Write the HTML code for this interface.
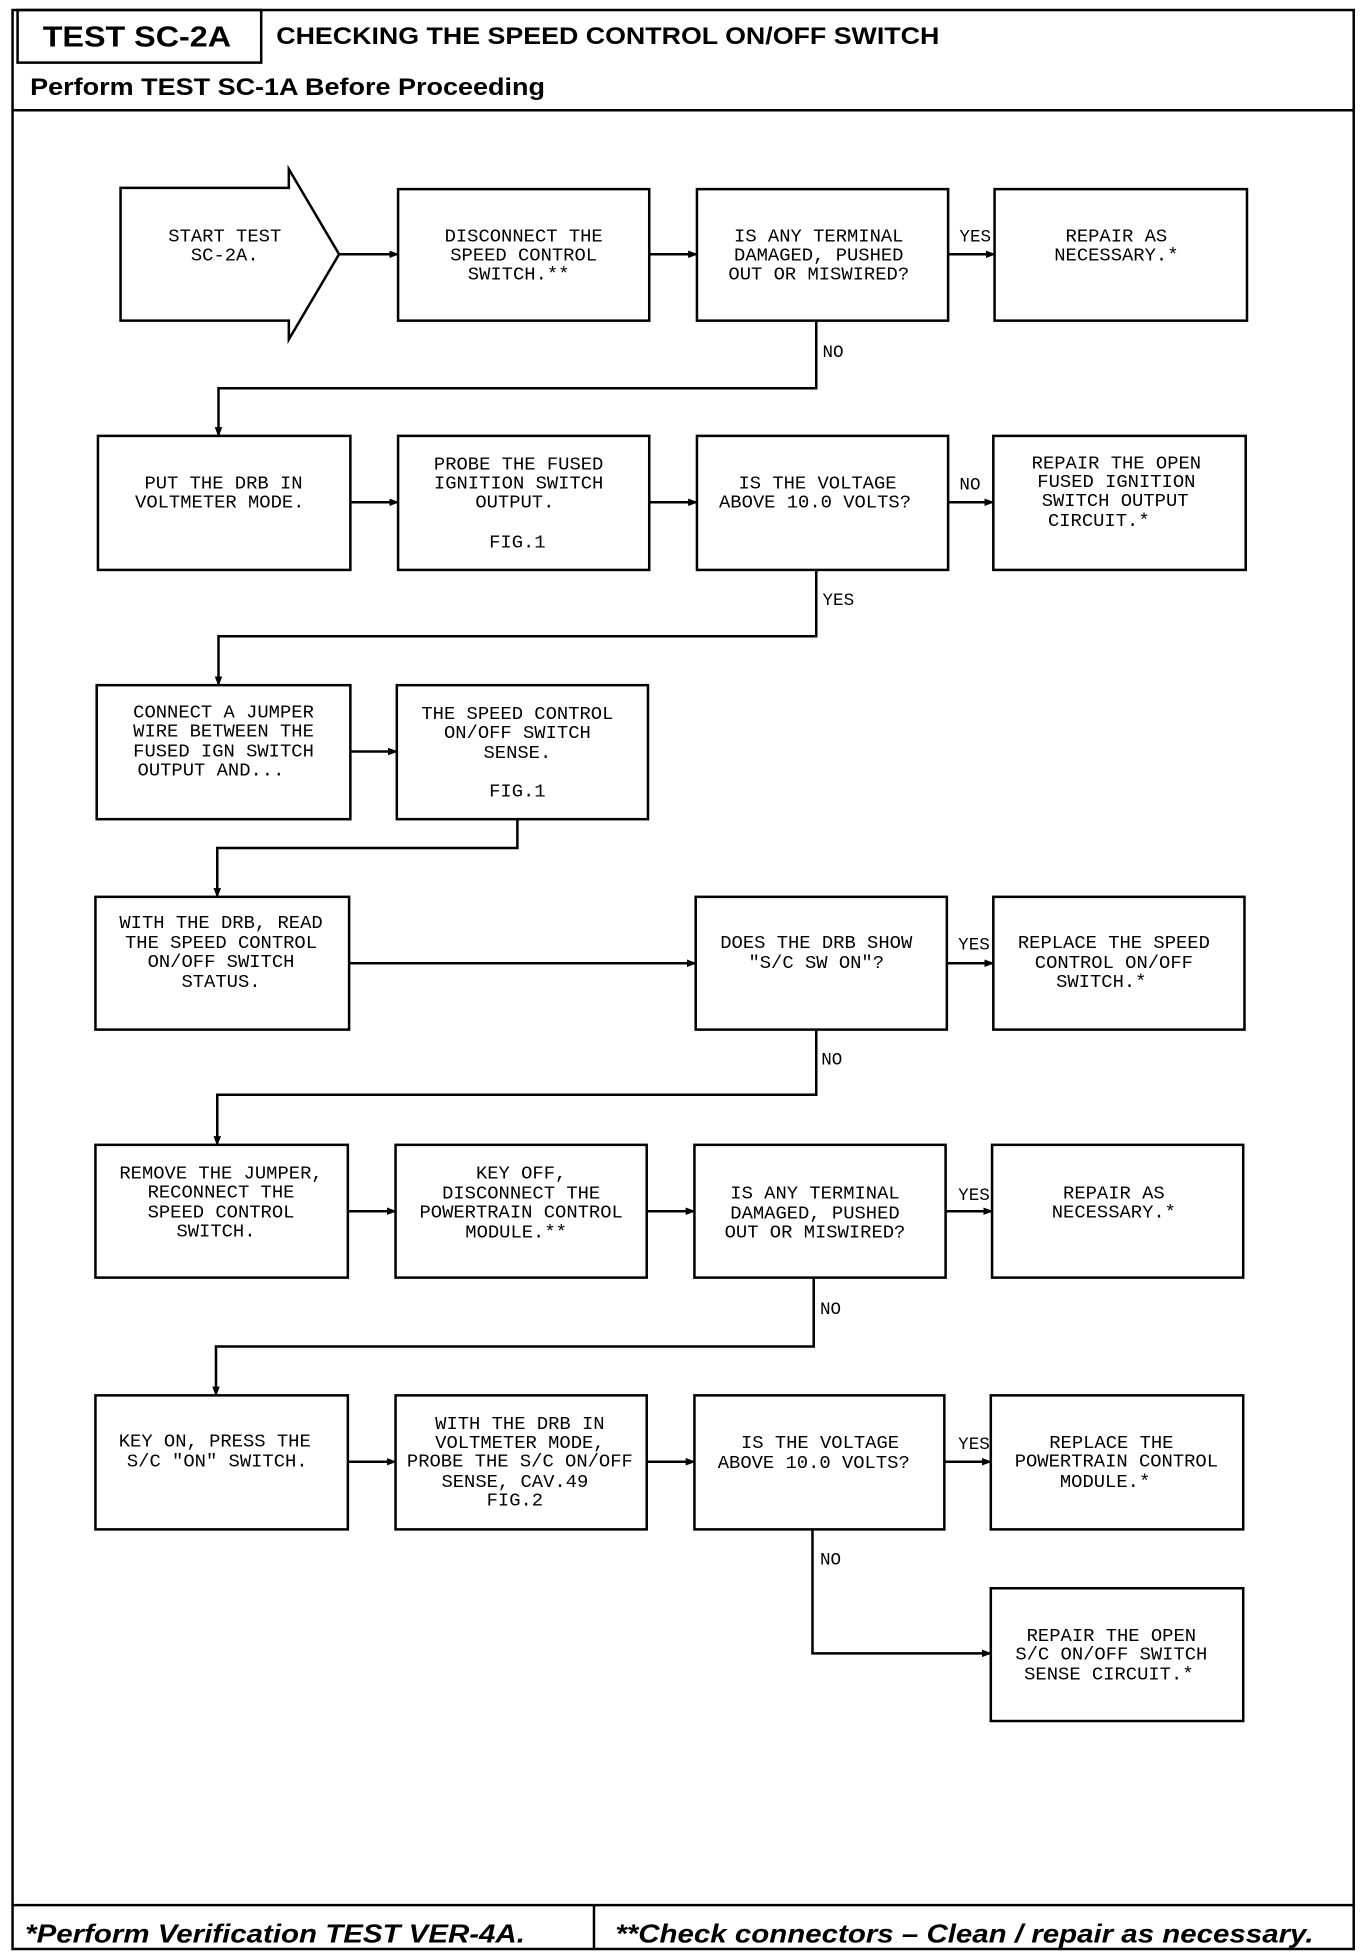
<!DOCTYPE html>
<html><head><meta charset="utf-8"><style>html,body{margin:0;padding:0;background:#fff}svg{display:block}</style></head>
<body>
<svg width="1360" height="1954" viewBox="0 0 1083 1560" preserveAspectRatio="none" xmlns="http://www.w3.org/2000/svg">
<defs><marker id="a" markerWidth="8" markerHeight="8" refX="7" refY="4" orient="auto" markerUnits="userSpaceOnUse"><path d="M0,1 L8,4 L0,7 z" fill="#000"/></marker></defs>
<g fill="none" stroke="#000" stroke-width="2">
<rect x="10" y="8" width="1068" height="1548"/>
<rect x="14" y="8" width="194" height="42"/>
<line x1="10" y1="88" x2="1078" y2="88"/>
<line x1="10" y1="1521" x2="1078" y2="1521"/>
<line x1="473" y1="1521" x2="473" y2="1556"/>
<path d="M96,150 H230 V135 L270,203 L230,271 V256 H96 Z"/>
<rect x="317" y="151" width="200" height="105"/><rect x="555" y="151" width="200" height="105"/><rect x="792" y="151" width="201" height="105"/>
<rect x="78" y="348" width="201" height="107"/><rect x="317" y="348" width="200" height="107"/><rect x="555" y="348" width="200" height="107"/><rect x="791" y="348" width="201" height="107"/>
<rect x="77" y="547" width="202" height="107"/><rect x="316" y="547" width="200" height="107"/>
<rect x="76" y="716" width="202" height="106"/><rect x="554" y="716" width="200" height="106"/><rect x="791" y="716" width="200" height="106"/>
<rect x="76" y="914" width="201" height="106"/><rect x="315" y="914" width="200" height="106"/><rect x="553" y="914" width="200" height="106"/><rect x="790" y="914" width="200" height="106"/>
<rect x="76" y="1114" width="201" height="107"/><rect x="315" y="1114" width="200" height="107"/><rect x="553" y="1114" width="199" height="107"/><rect x="789" y="1114" width="201" height="107"/>
<rect x="789" y="1268" width="201" height="106"/>
</g>
<g fill="none" stroke="#000" stroke-width="2" marker-end="url(#a)">
<line x1="270" y1="203" x2="317" y2="203"/><line x1="517" y1="203" x2="555" y2="203"/><line x1="755" y1="203" x2="792" y2="203"/>
<polyline points="650,256 650,310 174,310 174,348"/>
<line x1="279" y1="401" x2="317" y2="401"/><line x1="517" y1="401" x2="555" y2="401"/><line x1="755" y1="401" x2="791" y2="401"/>
<polyline points="650,455 650,508 174,508 174,547"/>
<line x1="279" y1="600" x2="316" y2="600"/>
<polyline points="412,654 412,677 173,677 173,716"/>
<line x1="278" y1="769" x2="554" y2="769"/><line x1="754" y1="769" x2="791" y2="769"/>
<polyline points="650,822 650,874 173,874 173,914"/>
<line x1="277" y1="967" x2="315" y2="967"/><line x1="515" y1="967" x2="553" y2="967"/><line x1="753" y1="967" x2="790" y2="967"/>
<polyline points="648,1020 648,1075 172,1075 172,1114"/>
<line x1="277" y1="1167" x2="315" y2="1167"/><line x1="515" y1="1167" x2="553" y2="1167"/><line x1="752" y1="1167" x2="789" y2="1167"/>
<polyline points="647,1221 647,1320 789,1320"/>
</g>
<g font-family="Liberation Sans, sans-serif" font-weight="bold" fill="#000">
<text x="34" y="37" font-size="23" textLength="150" lengthAdjust="spacingAndGlyphs">TEST SC-2A</text>
<text x="220" y="35" font-size="19" textLength="528" lengthAdjust="spacingAndGlyphs">CHECKING THE SPEED CONTROL ON/OFF SWITCH</text>
<text x="24" y="76" font-size="19" textLength="410" lengthAdjust="spacingAndGlyphs">Perform TEST SC-1A Before Proceeding</text>
<text x="20" y="1551" font-size="21" font-style="italic" textLength="398" lengthAdjust="spacingAndGlyphs">*Perform Verification TEST VER-4A.</text>
<text x="490" y="1551" font-size="21" font-style="italic" textLength="556" lengthAdjust="spacingAndGlyphs">**Check connectors – Clean / repair as necessary.</text>
</g>
<g font-family="Liberation Mono, monospace" font-size="15" fill="#000" text-anchor="middle">
<text x="179" y="193">START TEST</text><text x="179" y="208">SC-2A.</text>
<text x="417" y="193">DISCONNECT THE</text><text x="417" y="208">SPEED CONTROL</text><text x="413" y="223">SWITCH.**</text>
<text x="652" y="193">IS ANY TERMINAL</text><text x="652" y="208">DAMAGED, PUSHED</text><text x="652" y="223">OUT OR MISWIRED?</text>
<text x="889" y="193">REPAIR AS</text><text x="889" y="208">NECESSARY.*</text>
<text x="178" y="390">PUT THE DRB IN</text><text x="175" y="405">VOLTMETER MODE.</text>
<text x="413" y="375">PROBE THE FUSED</text><text x="413" y="390">IGNITION SWITCH</text><text x="410" y="405">OUTPUT.</text><text x="412" y="437">FIG.1</text>
<text x="651" y="390">IS THE VOLTAGE</text><text x="649" y="405">ABOVE 10.0 VOLTS?</text>
<text x="889" y="374">REPAIR THE OPEN</text><text x="889" y="389">FUSED IGNITION</text><text x="888" y="404">SWITCH OUTPUT</text><text x="875" y="420">CIRCUIT.*</text>
<text x="178" y="573">CONNECT A JUMPER</text><text x="178" y="588">WIRE BETWEEN THE</text><text x="178" y="604">FUSED IGN SWITCH</text><text x="168" y="619">OUTPUT AND...</text>
<text x="412" y="574">THE SPEED CONTROL</text><text x="412" y="589">ON/OFF SWITCH</text><text x="412" y="605">SENSE.</text><text x="412" y="636">FIG.1</text>
<text x="176" y="741">WITH THE DRB, READ</text><text x="176" y="757">THE SPEED CONTROL</text><text x="176" y="772">ON/OFF SWITCH</text><text x="176" y="788">STATUS.</text>
<text x="650" y="757">DOES THE DRB SHOW</text><text x="650" y="773">"S/C SW ON"?</text>
<text x="887" y="757">REPLACE THE SPEED</text><text x="887" y="773">CONTROL ON/OFF</text><text x="877" y="788">SWITCH.*</text>
<text x="176" y="941">REMOVE THE JUMPER,</text><text x="176" y="956">RECONNECT THE</text><text x="176" y="972">SPEED CONTROL</text><text x="172" y="987">SWITCH.</text>
<text x="415" y="941">KEY OFF,</text><text x="415" y="957">DISCONNECT THE</text><text x="415" y="972">POWERTRAIN CONTROL</text><text x="411" y="988">MODULE.**</text>
<text x="649" y="957">IS ANY TERMINAL</text><text x="649" y="973">DAMAGED, PUSHED</text><text x="649" y="988">OUT OR MISWIRED?</text>
<text x="887" y="957">REPAIR AS</text><text x="887" y="972">NECESSARY.*</text>
<text x="171" y="1155">KEY ON, PRESS THE</text><text x="173" y="1171">S/C "ON" SWITCH.</text>
<text x="414" y="1141">WITH THE DRB IN</text><text x="414" y="1156">VOLTMETER MODE,</text><text x="414" y="1171">PROBE THE S/C ON/OFF</text><text x="410" y="1187">SENSE, CAV.49</text><text x="410" y="1202">FIG.2</text>
<text x="653" y="1156">IS THE VOLTAGE</text><text x="648" y="1172">ABOVE 10.0 VOLTS?</text>
<text x="885" y="1156">REPLACE THE</text><text x="889" y="1171">POWERTRAIN CONTROL</text><text x="880" y="1187">MODULE.*</text>
<text x="885" y="1310">REPAIR THE OPEN</text><text x="885" y="1325">S/C ON/OFF SWITCH</text><text x="883" y="1341">SENSE CIRCUIT.*</text>
</g>
<g font-family="Liberation Mono, monospace" font-size="14" fill="#000">
<text x="764" y="193">YES</text><text x="655" y="285">NO</text>
<text x="764" y="391">NO</text><text x="655" y="483">YES</text>
<text x="763" y="758">YES</text><text x="654" y="850">NO</text>
<text x="763" y="958">YES</text><text x="653" y="1049">NO</text>
<text x="763" y="1157">YES</text><text x="653" y="1249">NO</text>
</g>
</svg>
</body></html>
